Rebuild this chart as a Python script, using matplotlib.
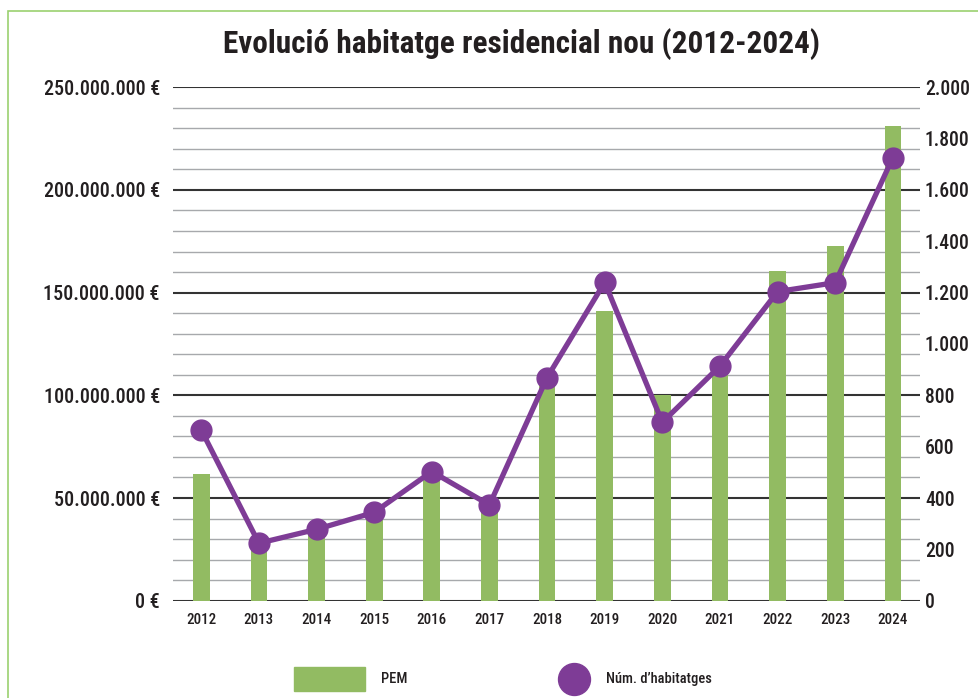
import matplotlib
matplotlib.use("Agg")
import matplotlib.pyplot as plt
import matplotlib.font_manager as fm
from matplotlib.patches import Rectangle
from matplotlib.lines import Line2D
from matplotlib.textpath import TextPath
import numpy as np

years = ['2012', '2013', '2014', '2015', '2016', '2017', '2018',
         '2019', '2020', '2021', '2022', '2023', '2024']
pem = [61.5e6, 27e6, 33e6, 40.5e6, 60e6, 44e6, 106e6,
       141e6, 100e6, 111e6, 160.5e6, 172.5e6, 231e6]
habitatges = [665, 224, 278, 344, 503, 373, 869,
              1240, 695, 914, 1204, 1239, 1726]

green = '#92BB62'
purple = '#7E3C96'
text_col = '#231F20'

# pick a narrow font if one is around
fonts = fm.fontManager.ttflist
family = 'DejaVu Sans'
stretch = 'normal'
for cand in ['Liberation Sans Narrow', 'Roboto Condensed', 'Open Sans Condensed',
             'Noto Sans Condensed']:
    if any(f.name == cand for f in fonts):
        family = cand
        break
else:
    for cand in ['Noto Sans', 'DejaVu Sans', 'Open Sans', 'Roboto']:
        if any(f.name == cand and f.stretch in ('condensed', 'semi-condensed',
                                                 'extra-condensed') for f in fonts):
            family = cand
            stretch = 'condensed'
            break
plt.rcParams['font.family'] = [family, 'DejaVu Sans']
plt.rcParams['font.stretch'] = stretch
lab_w = 'medium'


def fit(s, px, weight=lab_w):
    # font size (pt) that makes s about px pixels wide at 100 dpi
    prop = fm.FontProperties(family=[family, 'DejaVu Sans'], weight=weight,
                             stretch=stretch)
    w = TextPath((0, 0), s, size=10, prop=prop).get_extents().width
    return 10 * px / (w * 100 / 72)


def eur(v, pos=None):
    return '{:,.0f} €'.format(v).replace(',', '.')


def num(v, pos=None):
    return '{:,.0f}'.format(v).replace(',', '.')


fig = plt.figure(figsize=(9.79, 6.98), dpi=100)
ax = fig.add_axes([0.1767, 0.1394, 0.763, 0.7356])
x = np.arange(len(years))

# gridlines: light every 10M, dark every 50M
for v in np.arange(10e6, 250e6, 10e6):
    if v % 50e6 != 0:
        ax.axhline(v, color='#A7A9AC', lw=1.0, zorder=0)
for v in np.arange(0, 250e6 + 1, 50e6):
    ax.axhline(v, color='#333333', lw=1.5, zorder=0)

ax.bar(x, pem, width=0.29, color=green, zorder=2)
ax.set_ylim(0, 250e6)
ax.set_xlim(-0.49, 12.47)
ax.set_yticks(np.arange(0, 250e6 + 1, 50e6))
ax.yaxis.set_major_formatter(plt.FuncFormatter(eur))
ax.set_xticks(x)
ax.set_xticklabels(years)
for s in ax.spines.values():
    s.set_visible(False)
ax.tick_params(axis='y', length=0, pad=9.4,
               labelsize=fit('250.000.000 €', 115), labelcolor=text_col)
ax.tick_params(axis='x', length=0, pad=9,
               labelsize=fit('2012', 29), labelcolor=text_col)
for t in ax.get_xticklabels() + ax.get_yticklabels():
    t.set_fontweight(lab_w)

ax2 = ax.twinx()
ax2.plot(x, habitatges, color=purple, lw=3.8, marker='o', markersize=15,
         zorder=3)
ax2.set_ylim(0, 2000)
ax2.set_yticks(np.arange(0, 2001, 200))
ax2.yaxis.set_major_formatter(plt.FuncFormatter(num))
for s in ax2.spines.values():
    s.set_visible(False)
ax2.tick_params(axis='y', length=0, pad=3.6,
                labelsize=fit('2.000', 43), labelcolor=text_col)
for t in ax2.get_yticklabels():
    t.set_fontweight(lab_w)

title = 'Evolució habitatge residencial nou (2012-2024)'
fig.text(0.5327, 0.937, title, ha='center', va='center',
         fontsize=fit(title, 593, 'bold'), fontweight='bold', color=text_col)

# legend drawn by hand under the plot
leg_size = fit('Núm. d’habitatges', 104)
fig.patches.append(Rectangle((294 / 979, 1 - 691 / 698), 71 / 979, 24 / 698,
                             transform=fig.transFigure, color=green))
fig.text(381 / 979, 1 - 679 / 698, 'PEM', ha='left', va='center',
         fontsize=leg_size, fontweight=lab_w, color=text_col)
fig.lines.append(Line2D([574 / 979], [1 - 679 / 698], marker='o',
                        markersize=23, color=purple, lw=0,
                        transform=fig.transFigure))
fig.text(606 / 979, 1 - 679 / 698, 'Núm. d’habitatges', ha='left',
         va='center', fontsize=leg_size, fontweight=lab_w, color=text_col)

# light green frame at left and top
fig.patches.append(Rectangle((8 / 979, -0.1), 1.2, 1.1 - 11 / 698,
                             transform=fig.transFigure, fill=False,
                             edgecolor='#9BD16F', lw=1.2))

fig.savefig('out.png', dpi=100)
